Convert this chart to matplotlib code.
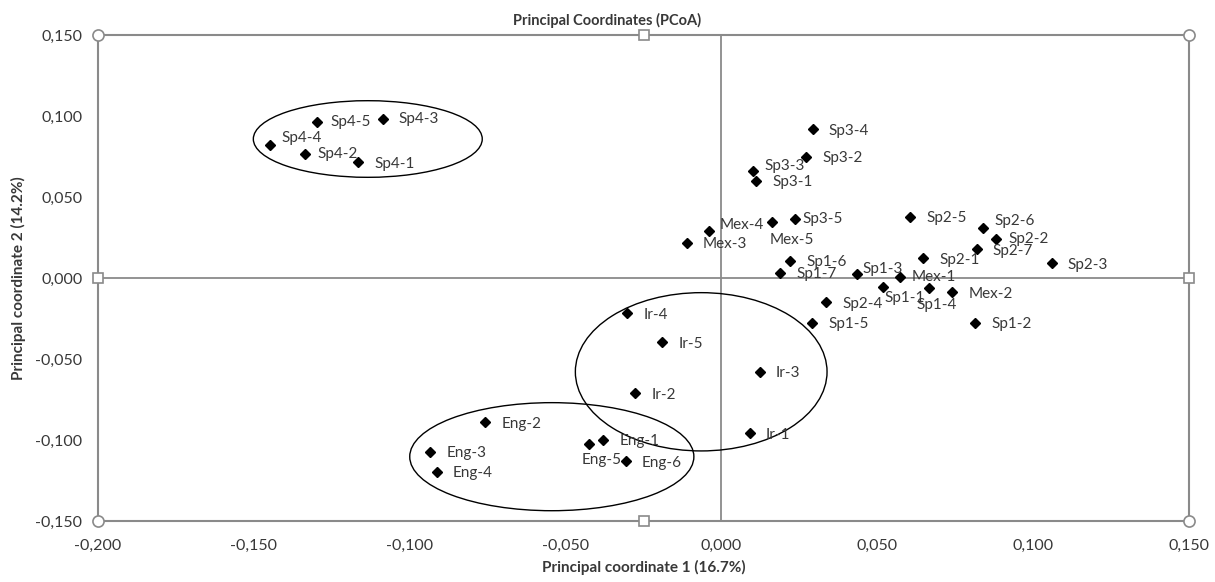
import matplotlib.pyplot as plt
from matplotlib.patches import Ellipse
from matplotlib.ticker import FuncFormatter

plt.rcParams['font.family'] = ['Lato', 'DejaVu Sans']

# sample scores on the first two principal coordinates
names = ['Sp4-4', 'Sp4-5', 'Sp4-3', 'Sp4-2', 'Sp4-1',
         'Sp3-4', 'Sp3-2', 'Sp3-3', 'Sp3-1', 'Sp3-5',
         'Mex-4', 'Mex-3', 'Mex-5', 'Mex-1', 'Mex-2',
         'Sp1-6', 'Sp1-7', 'Sp1-3', 'Sp1-1', 'Sp1-5', 'Sp1-4', 'Sp1-2',
         'Sp2-4', 'Sp2-5', 'Sp2-6', 'Sp2-2', 'Sp2-7', 'Sp2-1', 'Sp2-3',
         'Ir-4', 'Ir-5', 'Ir-3', 'Ir-2', 'Ir-1',
         'Eng-2', 'Eng-1', 'Eng-5', 'Eng-6', 'Eng-3', 'Eng-4']
pc1 = [-0.1446, -0.1298, -0.1084, -0.1334, -0.1164,
       0.0292, 0.0272, 0.0100, 0.0112, 0.0237,
       -0.0041, -0.0112, 0.0162, 0.0571, 0.0740,
       0.0221, 0.0189, 0.0433, 0.0519, 0.0291, 0.0665, 0.0814,
       0.0336, 0.0606, 0.0839, 0.0879, 0.0818, 0.0647, 0.1059,
       -0.0302, -0.0190, 0.0122, -0.0276, 0.0091,
       -0.0757, -0.0379, -0.0425, -0.0306, -0.0933, -0.0912]
pc2 = [0.0822, 0.0963, 0.0981, 0.0765, 0.0716,
       0.0918, 0.0749, 0.0660, 0.0600, 0.0364,
       0.0292, 0.0218, 0.0344, 0.0004, -0.0088,
       0.0105, 0.0033, 0.0025, -0.0054, -0.0276, -0.0060, -0.0276,
       -0.0150, 0.0379, 0.0307, 0.0243, 0.0179, 0.0121, 0.0091,
       -0.0218, -0.0397, -0.0578, -0.0712, -0.0959,
       -0.0891, -0.1000, -0.1025, -0.1131, -0.1072, -0.1196]

# group outlines: centre x, centre y, width, height
ell_x = [-0.1134, -0.0065, -0.0544]
ell_y = [0.0858, -0.0579, -0.1103]
ell_w = [0.0734, 0.0807, 0.0911]
ell_h = [0.0473, 0.0977, 0.0667]

xticks = [-0.20, -0.15, -0.10, -0.05, 0.0, 0.05, 0.10, 0.15]
yticks = [-0.15, -0.10, -0.05, 0.0, 0.05, 0.10, 0.15]

# label offsets in pixels (dx right, dy down) where they differ from default
default_off = (16, 1.5)
label_off = {
    'Sp4-4': (11, -7), 'Sp4-2': (12, 0), 'Sp4-5': (14, 0), 'Sp4-3': (15, 0),
    'Sp3-3': (12, -5), 'Mex-4': (11, -6), 'Mex-5': (-2, 18), 'Sp3-5': (7, 0),
    'Sp1-3': (6, -5), 'Mex-1': (12, 0), 'Sp1-1': (1, 11), 'Sp2-6': (11, -7),
    'Sp2-2': (13, 0), 'Sp1-4': (-12, 17), 'Eng-5': (-7, 16),
}

grey = '#8a8a8a'
txt = '#383838'

fig = plt.figure(figsize=(12.15, 5.82), dpi=100)
ax = fig.add_axes([97.7 / 1215, 61 / 582, 1091.6 / 1215, 486 / 582])

ax.axhline(0, color=grey, lw=1.3, zorder=1)
ax.axvline(0, color=grey, lw=1.3, zorder=1)

ax.plot(pc1, pc2, 'D', color='black', markersize=5.5, zorder=3)

for n, x, y in zip(names, pc1, pc2):
    dx, dy = label_off.get(n, default_off)
    ax.annotate(n, (x, y), xytext=(dx, -dy), textcoords='offset pixels',
                ha='left', va='center', fontsize=11, color=txt, zorder=4)

for cx, cy, w, h in zip(ell_x, ell_y, ell_w, ell_h):
    ax.add_patch(Ellipse((cx, cy), w, h, fill=False, edgecolor='black', lw=1.0, zorder=2))

ax.set_xlim(-0.2, 0.15)
ax.set_ylim(-0.15, 0.15)
ax.set_xticks(xticks)
ax.set_yticks(yticks)
fmt = FuncFormatter(lambda v, p: ('%.3f' % v).replace('.', ','))
ax.xaxis.set_major_formatter(fmt)
ax.yaxis.set_major_formatter(fmt)
ax.tick_params(axis='both', length=0, labelsize=11.5, labelcolor=txt)
ax.tick_params(axis='x', pad=13)
ax.tick_params(axis='y', pad=11)
for s in ax.spines.values():
    s.set_color(grey)
    s.set_linewidth(1.5)

# selection handles on the plot area border
hx = [-0.2, 0.15, -0.2, 0.15]
hy = [0.15, 0.15, -0.15, -0.15]
ax.plot(hx, hy, 'o', ms=8, mfc='white', mec=grey, mew=1.2, clip_on=False, zorder=5)
sx = [-0.025, -0.025, -0.2, 0.15]
sy = [0.15, -0.15, 0.0, 0.0]
ax.plot(sx, sy, 's', ms=7, mfc='white', mec=grey, mew=1.2, clip_on=False, zorder=5)

fig.text(0.5, 1 - 20 / 582, 'Principal Coordinates (PCoA)', ha='center', va='center',
         fontsize=10.5, fontweight='bold', color=txt)
fig.text(643.5 / 1215, 1 - 567 / 582, 'Principal coordinate 1 (16.7%)', ha='center', va='center',
         fontsize=11, fontweight='bold', color=txt)
fig.text(18 / 1215, 1 - 278 / 582, 'Principal coordinate 2 (14.2%)', ha='center', va='center',
         rotation=90, fontsize=11, fontweight='bold', color=txt)

fig.savefig('out.png', dpi=100)
